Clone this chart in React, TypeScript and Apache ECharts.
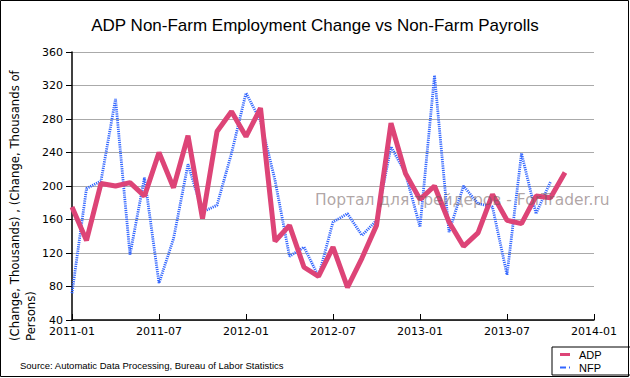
import React, { useEffect, useRef } from "react";
import * as echarts from "echarts";

const startMonth = "2011-01";
const endMonth = "2014-01";
const adpMonths = [
  "2011-01","2011-02","2011-03","2011-04","2011-05","2011-06","2011-07","2011-08","2011-09","2011-10","2011-11","2011-12",
  "2012-01","2012-02","2012-03","2012-04","2012-05","2012-06","2012-07","2012-08","2012-09","2012-10","2012-11","2012-12",
  "2013-01","2013-02","2013-03","2013-04","2013-05","2013-06","2013-07","2013-08","2013-09","2013-10","2013-11",
];
const adpValues = [175, 135, 203, 200, 204, 188, 240, 198, 260, 161, 265, 289, 259, 293, 134, 153, 103, 92, 127, 79, 114, 153, 275, 215, 184, 200, 157, 128, 144, 190, 159, 155, 188, 186, 216];
const nfpMonths = adpMonths.slice(0, 34);
const nfpValues = [72, 197, 206, 304, 118, 210, 84, 137, 226, 169, 177, 239, 311, 278, 207, 116, 127, 92, 157, 167, 141, 159, 247, 215, 151, 332, 145, 200, 179, 175, 94, 239, 167, 205];
const yTicks = { min: 40, max: 360, interval: 40 };

const monthIndex = (s: string) => {
  const [y, m] = s.split("-").map(Number);
  const [y0, m0] = startMonth.split("-").map(Number);
  return (y - y0) * 12 + (m - m0);
};
const monthLabel = (i: number) => {
  const [y0, m0] = startMonth.split("-").map(Number);
  const t = y0 * 12 + (m0 - 1) + i;
  const y = Math.floor(t / 12);
  const m = (t % 12) + 1;
  return `${y}-${m < 10 ? "0" + m : m}`;
};

export default function App() {
  const ref = useRef<HTMLDivElement>(null);
  useEffect(() => {
    document.body.style.margin = "0";
    const chart = echarts.init(ref.current!, null, { renderer: "svg" });
    const font = "DejaVu Sans";
    chart.setOption({
      animation: false,
      backgroundColor: "#ffffff",
      title: {
        text: "ADP Non-Farm Employment Change vs Non-Farm Payrolls",
        left: "center",
        top: 12,
        textStyle: { fontFamily: "Liberation Sans", fontSize: 17, fontWeight: "normal", color: "#000" },
      },
      grid: { left: 72, right: 36, top: 52, bottom: 58, containLabel: false },
      xAxis: {
        type: "value",
        min: 0,
        max: monthIndex(endMonth),
        interval: 6,
        axisLine: { lineStyle: { color: "#000", width: 1.5 } },
        axisTick: { inside: true, length: 6, lineStyle: { color: "#000" } },
        splitLine: { show: false },
        axisLabel: {
          formatter: (v: number) => monthLabel(v),
          fontFamily: font,
          fontSize: 11,
          color: "#000",
          margin: 6,
        },
      },
      yAxis: {
        type: "value",
        min: yTicks.min,
        max: yTicks.max,
        interval: yTicks.interval,
        axisLine: { show: true, lineStyle: { color: "#000", width: 1.5 } },
        axisTick: { show: true, inside: false, length: 6, lineStyle: { color: "#000" } },
        splitLine: { show: true, lineStyle: { color: "#aaaaaa", width: 1 } },
        axisLabel: { fontFamily: font, fontSize: 11, color: "#000", margin: 9 },
      },
      legend: {
        orient: "vertical",
        left: 552,
        top: 347,
        width: 76,
        padding: [2, 38, 2, 8],
        borderColor: "#000",
        borderWidth: 1,
        itemGap: 2,
        itemWidth: 10,
        itemHeight: 3,
        textStyle: { fontFamily: "Liberation Sans", fontSize: 11, color: "#000", padding: [0, 0, 0, 4] },
        data: [
          { name: "ADP", icon: "rect" },
          { name: "NFP", icon: "path://M0,0H6V2H0Z M9,0H10V2H9Z" },
        ],
      },
      series: [
        {
          name: "NFP",
          type: "line",
          data: nfpMonths.map((m, i) => [monthIndex(m), nfpValues[i]]),
          showSymbol: false,
          symbol: "none",
          color: "#3366ff",
          lineStyle: { color: "#3366ff", width: 2.8, type: [1.2, 1] },
          z: 2,
        },
        {
          name: "ADP",
          type: "line",
          data: adpMonths.map((m, i) => [monthIndex(m), adpValues[i]]),
          showSymbol: false,
          symbol: "none",
          color: "#dd4477",
          lineStyle: { color: "#dd4477", width: 5 },
          z: 3,
        },
      ],
      graphic: [
        {
          type: "rect",
          shape: { x: 0.5, y: 0.5, width: 628, height: 376 },
          style: { fill: "none", stroke: "#000", lineWidth: 1 },
          silent: true,
          z: -1,
        },
        {
          type: "text",
          x: 7,
          y: 341,
          rotation: Math.PI / 2,
          style: {
            text: "(Change, Thousands) , (Change, Thousands of\nPersons)",
            fontFamily: font,
            fontSize: 11.7,
            lineHeight: 16,
            fill: "#000",
            align: "left",
            verticalAlign: "top",
          },
          z: 10,
        },
        {
          type: "text",
          left: 20,
          top: 360,
          style: {
            text: "Source: Automatic Data Processing, Bureau of Labor Statistics",
            fontFamily: "Liberation Sans",
            fontSize: 9.5,
            fill: "#000",
          },
          z: 10,
        },
        {
          type: "text",
          x: 315,
          y: 200,
          style: {
            text: "Портал для трейдеров - ForTrader.ru",
            fontFamily: font,
            fontSize: 15.5,
            fill: "rgba(110, 90, 90, 0.55)",
            align: "left",
            verticalAlign: "middle",
          },
          z: 100,
        },
      ],
    });
    return () => chart.dispose();
  }, []);
  return <div ref={ref} style={{ width: 630, height: 378, position: "absolute", left: 0, top: 0 }} />;
}
